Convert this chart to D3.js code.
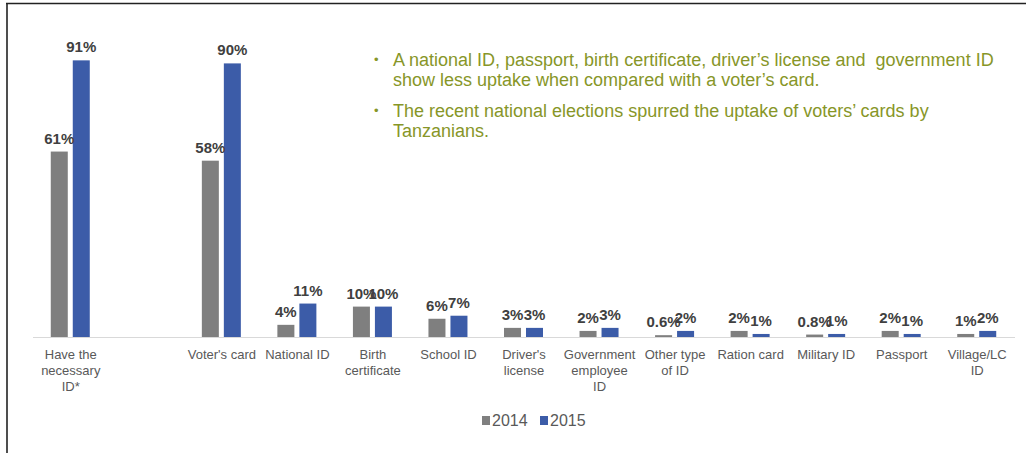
<!DOCTYPE html>
<html>
<head>
<meta charset="utf-8">
<script src="https://cdn.jsdelivr.net/npm/d3@7"></script>
<style>
  html, body { margin: 0; padding: 0; background: #fff; }
  svg { display: block; font-family: "Liberation Sans", Arial, sans-serif; }
  .note { white-space: pre; }
</style>
</head>
<body>
<svg id="chart" width="1026" height="453"></svg>
<script>
// ID uptake by type, 2014 vs 2015 (percent of respondents)
const categories = [
  "Have the\nnecessary\nID*", "", "Voter's card", "National ID", "Birth\ncertificate",
  "School ID", "Driver's\nlicense", "Government\nemployee\nID", "Other type\nof ID",
  "Ration card", "Military ID", "Passport", "Village/LC\nID"
];
const values2014 = [61, null, 58, 4, 10, 6, 3, 2, 0.6, 2, 0.8, 2, 1];
const values2015 = [91, null, 90, 11, 10, 7, 3, 3, 2, 1, 1, 1, 2];
const labels2014 = ["61%", "", "58%", "4%", "10%", "6%", "3%", "2%", "0.6%", "2%", "0.8%", "2%", "1%"];
const labels2015 = ["91%", "", "90%", "11%", "10%", "7%", "3%", "3%", "2%", "1%", "1%", "1%", "2%"];
const seriesNames = ["2014", "2015"];
const seriesColors = ["#7f7f7f", "#3c5ca8"];
const notes = [
  ["A national ID, passport, birth certificate, driver\u2019s license and  government ID",
   "show less uptake when compared with a voter\u2019s card."],
  ["The recent national elections spurred the uptake of voters\u2019 cards by",
   "Tanzanians."]
];

const svg = d3.select("#chart");

// frame lines
svg.append("line").attr("x1", 6).attr("x2", 1026).attr("y1", 3.5).attr("y2", 3.5)
  .attr("stroke", "#222").attr("stroke-width", 1.6);
svg.append("line").attr("x1", 7).attr("x2", 7).attr("y1", 3).attr("y2", 453)
  .attr("stroke", "#222").attr("stroke-width", 1.6);

const keys = categories.map((c, i) => "c" + i);
const x = d3.scaleBand().domain(keys).range([33, 1015]).padding(0);
const xs = d3.scaleBand().domain(seriesNames).range([-20, 19]).paddingInner(0.227).paddingOuter(0);
const y = d3.scaleLinear().domain([0, 100]).range([337, 33]);

const rows = [];
categories.forEach((c, i) => {
  [values2014, values2015].forEach((vals, s) => {
    if (vals[i] == null) return;
    rows.push({ key: keys[i], series: seriesNames[s], value: vals[i],
                label: (s === 0 ? labels2014 : labels2015)[i], color: seriesColors[s] });
  });
});

const cx = d => x(d.key) + x.bandwidth() / 2 + xs(d.series);

// bars
svg.append("g").selectAll("rect").data(rows).join("rect")
  .attr("x", cx)
  .attr("width", xs.bandwidth())
  .attr("y", d => y(d.value))
  .attr("height", d => y(0) - y(d.value))
  .attr("fill", d => d.color);

// baseline
svg.append("line").attr("x1", x.range()[0]).attr("x2", x.range()[1])
  .attr("y1", y(0) + 0.5).attr("y2", y(0) + 0.5)
  .attr("stroke", "#d9d9d9").attr("stroke-width", 1.2);

// value labels
svg.append("g").selectAll("text").data(rows).join("text")
  .attr("x", d => cx(d) + xs.bandwidth() / 2)
  .attr("y", d => y(d.value) - 8)
  .attr("text-anchor", "middle")
  .attr("font-size", 15).attr("font-weight", "bold").attr("fill", "#404040")
  .text(d => d.label);

// category labels
const xAxis = d3.axisBottom(x).tickSize(0).tickFormat(k => categories[keys.indexOf(k)]);
const axisG = svg.append("g").attr("transform", `translate(0,${y(0)})`).call(xAxis);
axisG.select(".domain").remove();
axisG.selectAll(".tick text").each(function(k) {
  const lines = categories[keys.indexOf(k)].split("\n");
  const t = d3.select(this).text(null)
    .attr("fill", "#595959").attr("font-size", 13)
    .attr("font-family", "Liberation Sans, Arial, sans-serif")
    .attr("y", 0).attr("dy", null);
  lines.forEach((ln, j) => {
    t.append("tspan").attr("x", 0).attr("y", 22 + j * 16).text(ln);
  });
});

// legend
const legend = svg.append("g");
const legendX = [482, 540];
seriesNames.forEach((name, i) => {
  legend.append("rect").attr("x", legendX[i]).attr("y", 416).attr("width", 8).attr("height", 9)
    .attr("fill", seriesColors[i]);
  legend.append("text").attr("x", legendX[i] + 10).attr("y", 426)
    .attr("font-size", 16).attr("fill", "#595959").text(name);
});

// commentary bullets
const noteG = svg.append("g").attr("fill", "#879628").attr("font-size", 18);
const noteTop = [66, 117];
notes.forEach((para, i) => {
  noteG.append("text").attr("x", 374).attr("y", noteTop[i] - 2).attr("font-size", 13).text("\u2022");
  para.forEach((ln, j) => {
    noteG.append("text").attr("class", "note")
      .attr("x", 393).attr("y", noteTop[i] + j * 20).text(ln);
  });
});
</script>
</body>
</html>
